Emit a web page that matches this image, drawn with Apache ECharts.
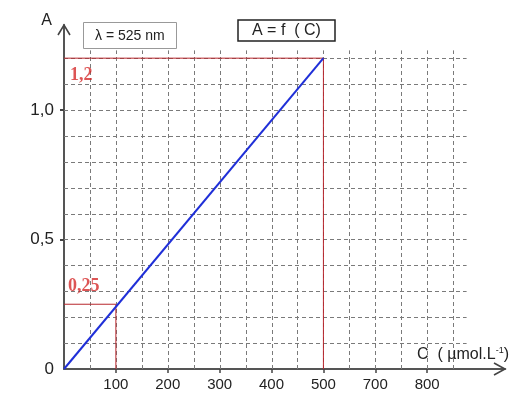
<!DOCTYPE html>
<html>
<head>
<meta charset="utf-8">
<script src="https://cdn.jsdelivr.net/npm/echarts@6/dist/echarts.min.js"></script>
<style>
html,body{margin:0;padding:0;background:#fff;}
#chart{width:519px;height:399px;}
</style>
</head>
<body>
<div id="chart"></div>
<script>
// ---- data ----
var curveC = [0, 500];            // concentration (µmol/L)
var curveA = [0, 1.2];            // absorbance
var guideHighC = [0, 500, 500];
var guideHighA = [1.2, 1.2, 0];
var guideLowC = [0, 100, 100];
var guideLowA = [0.25, 0.25, 0];
var xTickValues = [100, 200, 300, 400, 500, 600, 700];
var xTickLabels = ['100', '200', '300', '400', '500', '700', '800'];
var yTickValues = [0, 0.5, 1.0];
var yTickLabels = ['0', '0,5', '1,0'];
var vGridValues = [50, 100, 150, 200, 250, 300, 350, 400, 450, 500, 550, 600, 650, 700, 750];
var hGridValues = [0.1, 0.2, 0.3, 0.4, 0.5, 0.6, 0.7, 0.8, 0.9, 1.0, 1.1, 1.2];
var gridTopA = 1.23;
var gridRightC = 776;
var axisMaxC = 850;
var axisMaxA = 1.328;
var annotations = [['1,2', 0, 1.2], ['0,25', 0, 0.25]];

function pairs(xs, ys) { return xs.map(function (x, i) { return [x, ys[i]]; }); }

var chart = echarts.init(document.getElementById('chart'));

chart.setOption({
  animation: false,
  backgroundColor: '#fff',
  title: [
    { text: 'λ = 525 nm', left: 83, top: 22, padding: [7, 12, 6, 12],
      borderColor: '#999', borderWidth: 1,
      textStyle: { fontFamily: 'Liberation Sans', fontSize: 14, fontWeight: 'normal', color: '#222' } },
    { text: 'A = f  ( C)', left: 238, top: 20, padding: [3, 14, 2, 14],
      borderColor: '#222', borderWidth: 1.5,
      textStyle: { fontFamily: 'Liberation Sans', fontSize: 16, fontWeight: 'normal', color: '#222' } }
  ],
  grid: { left: 64, right: 14, top: 25, bottom: 30 },
  xAxis: {
    type: 'value', min: 0, max: axisMaxC,
    name: '{a|C  ( µmol.L}{s|-1}{a|)}',
    nameLocation: 'end', nameGap: 4,
    nameTextStyle: {
      align: 'right', verticalAlign: 'bottom', padding: [0, 0, 6, 0],
      rich: {
        a: { fontFamily: 'Liberation Sans', fontSize: 16, color: '#222' },
        s: { fontFamily: 'Liberation Sans', fontSize: 9, color: '#222', verticalAlign: 'top', padding: [0, 0, 8, 0] }
      }
    },
    axisLine: { show: true, onZero: false, lineStyle: { color: '#555', width: 2 } },
    axisTick: { show: true, customValues: xTickValues, length: 4, lineStyle: { color: '#444', width: 1.5 } },
    axisLabel: { customValues: xTickValues, margin: 8,
      fontFamily: 'Liberation Sans', fontSize: 15, color: '#222',
      formatter: function (v) { var i = xTickValues.indexOf(v); return i >= 0 ? xTickLabels[i] : ''; } },
    splitLine: { show: false }
  },
  yAxis: {
    type: 'value', min: 0, max: axisMaxA,
    name: 'A', nameLocation: 'end', nameGap: -4,
    nameTextStyle: { fontFamily: 'Liberation Sans', fontSize: 16, color: '#222', align: 'right', verticalAlign: 'bottom', padding: [0, 12, 0, 0] },
    axisLine: { show: true, onZero: false, lineStyle: { color: '#555', width: 2 } },
    axisTick: { show: true, customValues: [0.5, 1.0], length: 4, lineStyle: { color: '#444', width: 2 } },
    axisLabel: { customValues: yTickValues, margin: 10,
      fontFamily: 'Liberation Sans', fontSize: 17, color: '#222',
      formatter: function (v) { var i = yTickValues.indexOf(v); return i >= 0 ? yTickLabels[i] : ''; } },
    splitLine: { show: false }
  },
  series: [
    { type: 'custom', z: 1, silent: true,
      data: vGridValues.map(function (v) { return [v, 0]; }),
      renderItem: function (params, api) {
        var p0 = api.coord([api.value(0), 0]);
        var p1 = api.coord([api.value(0), gridTopA]);
        var x = Math.round(p0[0]) + 0.5;
        return { type: 'line', shape: { x1: x, y1: p0[1], x2: x, y2: p1[1] },
          style: { stroke: '#7a7a7a', lineWidth: 1, lineDash: [4, 3] } };
      } },
    { type: 'custom', z: 1, silent: true,
      data: hGridValues.map(function (v) { return [0, v]; }),
      renderItem: function (params, api) {
        var p0 = api.coord([0, api.value(1)]);
        var p1 = api.coord([gridRightC, api.value(1)]);
        var y = Math.round(p0[1]) + 0.5;
        return { type: 'line', shape: { x1: p0[0], y1: y, x2: p1[0], y2: y },
          style: { stroke: '#7a7a7a', lineWidth: 1, lineDash: [4, 3] } };
      } },
    { type: 'line', z: 3, silent: true, showSymbol: false, data: pairs(guideHighC, guideHighA),
      lineStyle: { color: '#b8262c', width: 1 } },
    { type: 'line', z: 3, silent: true, showSymbol: false, data: pairs(guideLowC, guideLowA),
      lineStyle: { color: '#b8262c', width: 1 } },
    { type: 'line', z: 4, silent: true, showSymbol: false, data: pairs(curveC, curveA),
      lineStyle: { color: '#1f2fd8', width: 2 } },
    { type: 'scatter', z: 5, silent: true, symbolSize: 0,
      data: annotations.map(function (a, i) {
        return { value: [a[1], a[2]], name: a[0],
          label: { show: true, formatter: a[0], position: i === 0 ? [6, 17] : [4, -18],
            align: 'left', verticalAlign: 'middle',
            fontFamily: 'Liberation Serif', fontWeight: 'bold', fontSize: 18, color: '#d42a2a' } };
      }) }
  ]
});

// open chevron arrow heads at both axis ends, positioned through the axis scales
var xEnd = chart.convertToPixel({ gridIndex: 0 }, [axisMaxC, 0]);
var yEnd = chart.convertToPixel({ gridIndex: 0 }, [0, axisMaxA]);
chart.setOption({
  graphic: [
    { type: 'polyline', z: 100, silent: true,
      shape: { points: [[xEnd[0] - 11, xEnd[1] - 6], [xEnd[0], xEnd[1]], [xEnd[0] - 11, xEnd[1] + 6]] },
      style: { stroke: '#444', lineWidth: 1.6, fill: null } },
    { type: 'polyline', z: 100, silent: true,
      shape: { points: [[yEnd[0] - 6, yEnd[1] + 10], [yEnd[0], yEnd[1]], [yEnd[0] + 6, yEnd[1] + 10]] },
      style: { stroke: '#444', lineWidth: 1.6, fill: null } }
  ]
});
</script>
</body>
</html>
